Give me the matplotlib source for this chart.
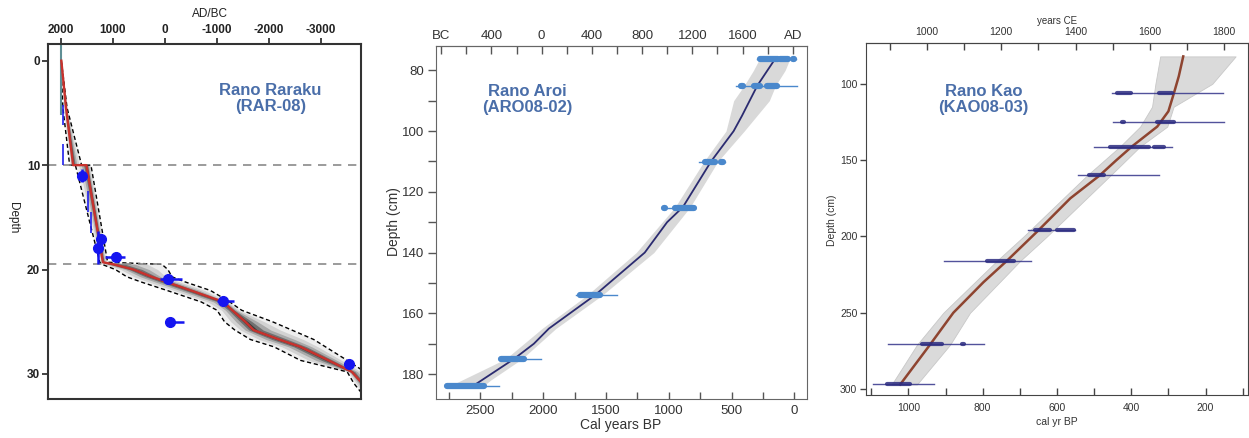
import numpy as np
import matplotlib
matplotlib.use("Agg")
import matplotlib.pyplot as plt
from matplotlib.ticker import MultipleLocator

plt.rcParams['font.family'] = ['Liberation Sans', 'DejaVu Sans']
plt.rcParams['axes.unicode_minus'] = False

# ---------------- Rano Raraku (RAR-08) ----------------
rar_depth = np.array([0, 4.5, 10, 10, 19.3, 19.5, 20.0, 20.7, 21.2, 22.0, 23.1, 23.9,
                      25.0, 25.8, 26.7, 27.4, 28.7, 29.8, 30.9, 32.4])
rar_mid = np.array([1990, 1900, 1763, 1507, 1190, 990, 600, 250, -40, -500, -1130, -1300,
                    -1550, -1710, -2200, -2610, -3150, -3600, -3800, -3900])
rar_young = np.array([2000, 1960, 1830, 1720, 1250, 1210, 950, 728, 450, -42, -700, -1006,
                      -1150, -1350, -1647, -2100, -2611, -3510, -3638, -3880])
rar_old = np.array([1990, 1880, 1600, 1420, 1100, 55, -60, -140, -400, -877, -1250, -1480,
                    -2073, -2447, -2867, -3092, -3510, -3850, -3950, -3950])

rar_date_depth = [11.0, 17.1, 17.9, 18.8, 20.9, 23.0, 25.0, 29.0]
rar_date_age = [1600, 1220, 1280, 930, -70, -1130, -110, -3540]
rar_date_xlo = [80, 40, 80, 170, 257, 200, 256, 100]
rar_date_xhi = [80, 40, 80, 220, 160, 130, 50, 100]
rar_date_yerr = [0.6, 0.5, 1.6, 0.4, 0.3, 0.3, 0.2, 0.3]

rar_bar_depth = [5.2, 9.0, 13.5, 15.5]
rar_bar_age = [1960, 1956, 1474, 1416]
rar_bar_yerr = [1.0, 1.0, 1.0, 1.0]

rar_surface_age = 2000
rar_surface_depth = [-1.6, 5.1]
rar_breaks = [10, 19.5]

# ---------------- Rano Aroi (ARO08-02) ----------------
aro_line_depth = [76, 85, 95, 100, 110, 125, 130, 140, 154, 165, 170, 175, 184]
aro_line_bp = [150, 295, 418, 484, 664, 888, 1014, 1192, 1588, 1955, 2075, 2233, 2563]
aro_env_depth = [76, 80, 85, 90, 100, 110, 125, 140, 154, 165, 175, 182, 184]
aro_env_old = [275, 326, 400, 484, 545, 720, 950, 1260, 1650, 2010, 2300, 2650, 2750]
aro_env_young = [34, 74, 150, 200, 400, 610, 830, 1120, 1530, 1900, 2170, 2420, 2480]

aro_date_depth = [76.3, 85.0, 110.2, 125.4, 154.0, 175.0, 184.0]
aro_date_full = [(300, -10), (464, -19), (763, 551), (1054, 789), (1743, 1412),
                 (2353, 2022), (2763, 2353)]
aro_date_hpd = [[(273, 127), (113, 48), (14, 2)],
                [(425, 410), (320, 273), (215, 140)],
                [(710, 630), (582, 572)],
                [(1042, 1030), (948, 803)],
                [(1704, 1545)],
                [(2340, 2154)],
                [(2763, 2472)]]
aro_top_ticks = [-800, -400, 0, 400, 800, 1200, 1600, 2000]
aro_top_labels = ['BC', '400', '0', '400', '800', '1200', '1600', 'AD']

# ---------------- Rano Kao (KAO08-03) ----------------
kao_line_depth = [82, 95, 106, 118, 128, 141, 150, 160, 175, 196, 216, 230, 250, 271, 297]
kao_line_bp = [260, 272, 285, 300, 330, 398, 440, 485, 564, 650, 735, 798, 879, 942, 1022]
kao_env_depth = [82, 100, 115, 128, 141, 160, 200, 216, 250, 271, 297]
kao_env_old = [322, 335, 344, 376, 430, 519, 690, 762, 906, 977, 1045]
kao_env_young = [119, 182, 286, 303, 376, 456, 627, 699, 834, 888, 977]

kao_date_depth = [106.1, 125.1, 141.1, 159.7, 195.7, 215.9, 270.7, 296.7]
kao_date_full = [(453, 154), (449, 149), (499, 289), (543, 326), (677, 551),
                 (905, 670), (1056, 796), (1096, 931)]
kao_date_hpd = [[(438, 402), (326, 290)],
                [(426, 420), (330, 285)],
                [(456, 353), (340, 313)],
                [(515, 474)],
                [(659, 618), (600, 555)],
                [(789, 717)],
                [(964, 910), (855, 849)],
                [(1058, 995)]]
kao_top_ticks = [1000, 1200, 1400, 1600, 1800]

title_color = '#4a6ea9'

fig = plt.figure(figsize=(12.49, 4.38), dpi=100)

# ======== panel 1 ========
ax1 = fig.add_axes([0.0387, 0.089, 0.2501, 0.8105])
mid, yo, ol = rar_mid, rar_young, rar_old
for f, c in zip([1.0, 0.7, 0.45, 0.25, 0.1],
                ['#eeeeee', '#d2d2d2', '#a9a9a9', '#707070', '#3c3c3c']):
    ax1.fill_betweenx(rar_depth, mid + f * (yo - mid), mid + f * (ol - mid), color=c, lw=0)
ax1.plot(rar_young, rar_depth, 'k--', lw=1, dashes=(3, 2))
ax1.plot(rar_old, rar_depth, 'k--', lw=1, dashes=(3, 2))
for d in rar_breaks:
    ax1.axhline(d, color='#8a8a8a', lw=1.2, dashes=(5, 4))
ax1.plot([rar_surface_age, rar_surface_age], rar_surface_depth, color='#5f8f95', lw=1.5)
ax1.plot(rar_mid, rar_depth, color='#c8322d', lw=1.7)
ax1.errorbar(rar_bar_age, rar_bar_depth, yerr=rar_bar_yerr, fmt='none',
             ecolor='#2020ee', elinewidth=1.2)
ax1.errorbar(rar_date_age, rar_date_depth, xerr=[rar_date_xlo, rar_date_xhi],
             yerr=rar_date_yerr, fmt='o', color='#1515f0', ms=7,
             ecolor='#1515f0', elinewidth=1.8)
ax1.set_xlim(2240, -3770)
ax1.set_ylim(32.4, -1.6)
ax1.xaxis.tick_top()
ax1.set_xticks([2000, 1000, 0, -1000, -2000, -3000])
ax1.set_yticks([0, 10, 20, 30])
ax1.tick_params(direction='out', length=4, width=1.2, labelsize=8.5, pad=2, colors='#222')
for lbl in ax1.get_xticklabels() + ax1.get_yticklabels():
    lbl.set_fontweight('bold')
for s in ax1.spines.values():
    s.set_linewidth(1.5)
    s.set_color('#333')
ax1.xaxis.set_label_position('top')
ax1.set_xlabel('AD/BC', fontsize=8.5, va='center', color='#222')
ax1.xaxis.set_label_coords(0.5176, 1.0845)
ax1.set_ylabel('Depth', fontsize=8.5, rotation=270, va='center', ha='center', color='#222')
ax1.yaxis.set_label_coords(-0.112, 0.51)
ax1.text(0.711, 0.8465, 'Rano Raraku\n(RAR-08)', transform=ax1.transAxes, ha='center',
         va='center', fontsize=12, fontweight='bold', color=title_color, linespacing=1.15)

# ======== panel 2 ========
ax2 = fig.add_axes([0.3487, 0.089, 0.2977, 0.8066])
ax2.fill_betweenx(aro_env_depth, aro_env_young, aro_env_old, color='#d9d9d9', lw=0)
ax2.plot(aro_line_bp, aro_line_depth, color='#2b2b70', lw=1.3)
for d, full, segs in zip(aro_date_depth, aro_date_full, aro_date_hpd):
    ax2.plot(full, [d, d], color='#4a88cc', lw=1)
    for a, b in segs:
        ax2.plot([a, b], [d, d], color='#4a88cc', lw=4.5, solid_capstyle='round')
ax2.set_xlim(2858, -103)
ax2.set_ylim(188.2, 71.9)
ax2.xaxis.set_major_locator(MultipleLocator(500))
ax2.xaxis.set_minor_locator(MultipleLocator(250))
ax2.yaxis.set_major_locator(MultipleLocator(20))
ax2.yaxis.set_minor_locator(MultipleLocator(10))
ax2.tick_params(axis='x', which='both', direction='in', length=5, width=1, color='#555',
                labelsize=9.5, labelcolor='#333', pad=4)
ax2.tick_params(axis='y', which='both', direction='out', length=6, width=1, color='#555',
                labelsize=9.5, labelcolor='#333', pad=2)
for s in ax2.spines.values():
    s.set_color('#666')
# top axis placed as printed in the source figure
top2 = ax2.secondary_xaxis('top', functions=(lambda x: 2013 - x, lambda x: 2013 - x))
top2.set_xticks(aro_top_ticks, aro_top_labels)
top2.xaxis.set_minor_locator(MultipleLocator(200))
top2.tick_params(which='both', direction='in', length=6, width=1, color='#555',
                 labelsize=9.5, labelcolor='#333', pad=3)
top2.spines['top'].set_color('#666')
ax2.set_xlabel('Cal years BP', fontsize=10, color='#333', va='center')
ax2.xaxis.set_label_coords(0.499, -0.0736)
ax2.set_ylabel('Depth (cm)', fontsize=10, color='#333', va='center')
ax2.yaxis.set_label_coords(-0.112, 0.502)
ax2.text(0.248, 0.8477, 'Rano Aroi\n(ARO08-02)', transform=ax2.transAxes, ha='center',
         va='center', fontsize=12, fontweight='bold', color=title_color, linespacing=1.15)

# ======== panel 3 ========
ax3 = fig.add_axes([0.6931, 0.0982, 0.3057, 0.8037])
ax3.fill_betweenx(kao_env_depth, kao_env_young, kao_env_old, color='#dadada', lw=0.6,
                  edgecolor='#c8c8c8')
ax3.plot(kao_line_bp, kao_line_depth, color='#8e4430', lw=1.8)
for d, full, segs in zip(kao_date_depth, kao_date_full, kao_date_hpd):
    ax3.plot(full, [d, d], color='#34348a', lw=1, alpha=0.85)
    for a, b in segs:
        ax3.plot([a, b], [d, d], color='#2c2c80', lw=3, solid_capstyle='round', alpha=0.85)
ax3.set_xlim(1115, 87)
ax3.set_ylim(303.9, 73.2)
ax3.xaxis.set_major_locator(MultipleLocator(200))
ax3.xaxis.set_minor_locator(MultipleLocator(100))
ax3.set_yticks([100, 150, 200, 250, 300])
ax3.tick_params(axis='x', which='both', direction='in', length=5, width=1, color='#444',
                labelsize=7.5, labelcolor='#333', pad=6)
ax3.tick_params(axis='y', direction='out', length=4, width=1, color='#444',
                labelsize=7.5, labelcolor='#333', pad=2)
for s in ax3.spines.values():
    s.set_color('#444')
top3 = ax3.secondary_xaxis('top', functions=(lambda x: 1950 - x, lambda x: 1950 - x))
top3.set_xticks(kao_top_ticks)
top3.xaxis.set_minor_locator(MultipleLocator(100))
top3.tick_params(which='both', direction='in', length=5, width=1, color='#444',
                 labelsize=7.5, labelcolor='#333', pad=4)
top3.spines['top'].set_color('#444')
ax3.text(0.5, 1.063, 'years CE', transform=ax3.transAxes, ha='center', va='center',
         fontsize=7, color='#333')
ax3.set_xlabel('cal yr BP', fontsize=7.5, color='#333', va='center')
ax3.xaxis.set_label_coords(0.5, -0.0767)
ax3.set_ylabel('Depth (cm)', fontsize=7.5, color='#333', va='center')
ax3.yaxis.set_label_coords(-0.0883, 0.497)
ax3.text(0.308, 0.8395, 'Rano Kao\n(KAO08-03)', transform=ax3.transAxes, ha='center',
         va='center', fontsize=12, fontweight='bold', color=title_color, linespacing=1.15)

fig.savefig('out.png', dpi=100)
